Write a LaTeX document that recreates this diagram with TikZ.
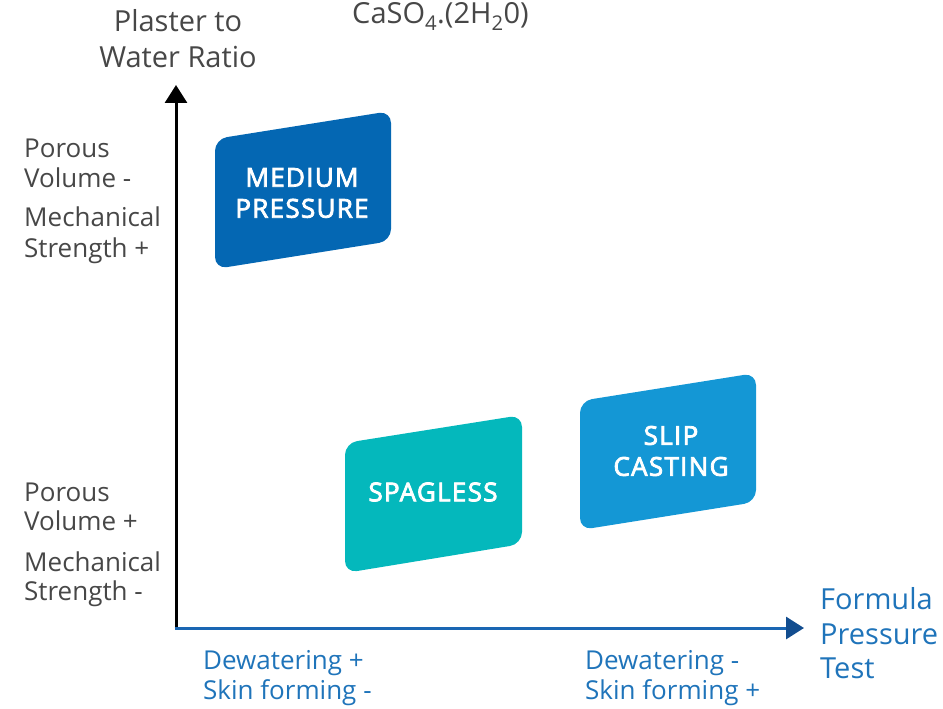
\documentclass[tikz,border=0pt]{standalone}
\usepackage{fontspec}
\setmainfont{Open Sans}
\newfontfamily\panelfont{Open Sans}[FakeBold=3, LetterSpace=5]
\usetikzlibrary{arrows.meta}
\definecolor{mediumblue}{HTML}{0467B3}
\definecolor{spaglessteal}{HTML}{04B8BC}
\definecolor{slipblue}{HTML}{1497D5}
\definecolor{labelgray}{HTML}{474747}
\definecolor{axisblue}{HTML}{1A66B3}
\definecolor{tipblue}{HTML}{124D8F}
\definecolor{textblue}{HTML}{1F74BA}
\tikzset{
  panel/.style={rounded corners=12pt},
  paneltext/.style={text=white, font=\panelfont\fontsize{26}{31}\selectfont, align=center, inner sep=0pt},
  sidelabel/.style={text=labelgray, font=\fontsize{26}{30}\selectfont, anchor=base west, inner sep=0pt},
  xlabel/.style={text=textblue, font=\fontsize{26}{30}\selectfont, anchor=base west, inner sep=0pt},
  axistitle/.style={font=\fontsize{29}{34}\selectfont, inner sep=0pt},
}
\begin{document}
\begin{tikzpicture}[x=1pt,y=-1pt]
\useasboundingbox (0,0) rectangle (943,709);

% axes
\coordinate (origin) at (176,628);
\coordinate (ytip) at (176,85);
\coordinate (xtip) at (804,628);
\draw[line width=3pt, black, -{Triangle[width=22pt,length=18pt]}] (origin) -- (ytip);
\draw[line width=3pt, axisblue, -{Triangle[width=22pt,length=18pt,fill=tipblue,color=tipblue]}] ([xshift=-1.5pt]origin) -- (xtip);

% slanted panels
\fill[mediumblue, panel] (215,139) -- (391,111) -- (391,241) -- (215,269) -- cycle;
\fill[spaglessteal, panel] (345,443) -- (522,415) -- (522,544) -- (345,573) -- cycle;
\fill[slipblue, panel] (580,401) -- (756,373) -- (756,502) -- (580,530) -- cycle;

\node[paneltext] (medium) at (302,193) {MEDIUM\\PRESSURE};
\node[paneltext] (spagless) at (433,492) {SPAGLESS};
\node[paneltext] (slip) at (671,451) {SLIP\\CASTING};

% vertical axis title and formula
\node[axistitle, text=labelgray, anchor=base] (ytitle1) at (178,32) {Plaster to};
\node[axistitle, text=labelgray, anchor=base] (ytitle2) at (178,68) {Water Ratio};
\node[axistitle, text=labelgray, anchor=base west] (formula) at (352,24) {CaSO\textsubscript{4}.(2H\textsubscript{2}0)};

% side labels
\node[sidelabel] (p1) at (24,157) {Porous};
\node[sidelabel] (v1) at (24,187) {Volume -};
\node[sidelabel] (m1) at (24,226) {Mechanical};
\node[sidelabel] (s1) at (24,257) {Strength +};
\node[sidelabel] (p2) at (24,501) {Porous};
\node[sidelabel] (v2) at (24,530) {Volume +};
\node[sidelabel] (m2) at (24,571) {Mechanical};
\node[sidelabel] (s2) at (24,600) {Strength -};

% horizontal axis labels
\node[xlabel] (d1) at (203,669) {Dewatering +};
\node[xlabel] (k1) at (203,699) {Skin forming -};
\node[xlabel] (d2) at (585,669) {Dewatering -};
\node[xlabel] (k2) at (585,699) {Skin forming +};
\node[axistitle, text=textblue, anchor=base west] (x1) at (820,609) {Formula};
\node[axistitle, text=textblue, anchor=base west] (x2) at (820,644) {Pressure};
\node[axistitle, text=textblue, anchor=base west] (x3) at (820,678) {Test};
\end{tikzpicture}
\end{document}
